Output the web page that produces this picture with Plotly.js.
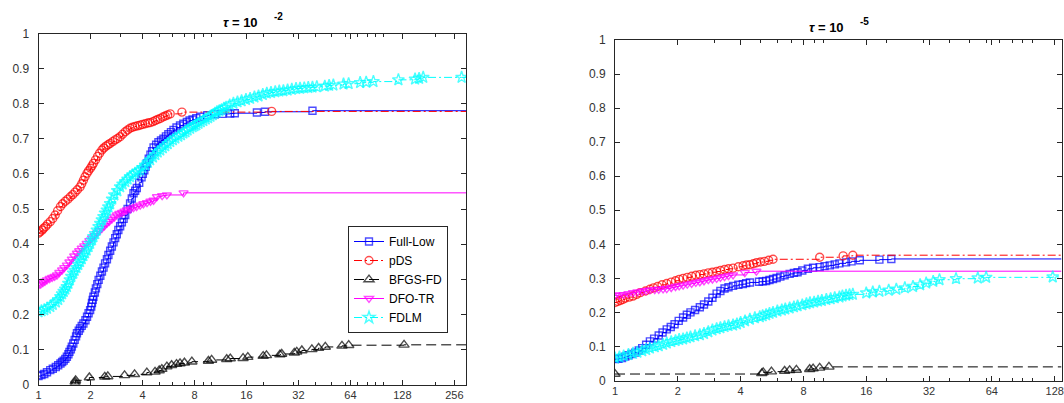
<!DOCTYPE html>
<html><head><meta charset="utf-8">
<script src="https://cdn.plot.ly/plotly-3.0.1.min.js"></script>
<style>html,body{margin:0;padding:0;background:#fff}#chart{width:1064px;height:403px}</style>
</head><body><div id="chart"></div>
<script>
// ---------- data ----------
const solvers = ['Full-Low', 'pDS', 'BFGS-FD', 'DFO-TR', 'FDLM'];
const xTickVals = [1, 2, 4, 8, 16, 32, 64, 128, 256];
const xTickText = ['1', '2', '4', '8', '16', '32', '64', '128', '256'];
const xMinorVals = [3, 5, 6, 7, 9, 10, 20, 30, 40, 50, 60, 70, 80, 90, 100, 200, 300];
const yTickVals = [0, 0.1, 0.2, 0.3, 0.4, 0.5, 0.6, 0.7, 0.8, 0.9, 1];
const yTickText = ['0', '0.1', '0.2', '0.3', '0.4', '0.5', '0.6', '0.7', '0.8', '0.9', '1'];
const titleLeft = ['τ = 10', '-2'];
const titleRight = ['τ = 10', '-5'];
const tauMaxLeft = 299;
const tauMaxRight = 138;

// left panel: tau = 1e-2
const fullLowLX = [1, 1.04, 1.08, 1.12, 1.17, 1.21, 1.26, 1.30, 1.34, 1.37, 1.40, 1.43, 1.46, 1.49, 1.51, 1.54, 1.56, 1.59, 1.62, 1.65, 1.67, 1.71, 1.74, 1.78, 1.82, 1.87, 1.91, 1.95, 1.99, 2.02, 2.04, 2.06, 2.08, 2.12, 2.15, 2.19, 2.23, 2.28, 2.33, 2.38, 2.43, 2.49, 2.54, 2.6, 2.66, 2.72, 2.78, 2.84, 2.9, 2.97, 3.04, 3.11, 3.18, 3.28, 3.39, 3.47, 3.55, 3.63, 3.71, 3.83, 3.95, 4.02, 4.1, 4.17, 4.24, 4.35, 4.45, 4.55, 4.64, 4.8, 4.95, 5.12, 5.29, 5.47, 5.65, 5.85, 6.05, 6.3, 6.6, 6.9, 7.23, 7.5, 7.8, 8.2, 8.63, 9.5, 10.5, 11.6, 12.88, 13.7, 18.4, 20.5, 38.6];
const fullLowLY = [0.024, 0.027, 0.03, 0.035, 0.041, 0.045, 0.05, 0.055, 0.06, 0.064, 0.068, 0.073, 0.079, 0.086, 0.093, 0.1, 0.108, 0.117, 0.127, 0.137, 0.146, 0.153, 0.160, 0.167, 0.174, 0.183, 0.193, 0.203, 0.212, 0.222, 0.232, 0.241, 0.25, 0.262, 0.274, 0.286, 0.298, 0.31, 0.322, 0.333, 0.345, 0.357, 0.369, 0.381, 0.393, 0.405, 0.417, 0.428, 0.44, 0.451, 0.462, 0.472, 0.483, 0.5, 0.516, 0.53, 0.545, 0.552, 0.56, 0.575, 0.59, 0.6, 0.61, 0.62, 0.63, 0.643, 0.655, 0.665, 0.675, 0.683, 0.69, 0.695, 0.70, 0.707, 0.713, 0.719, 0.725, 0.732, 0.738, 0.743, 0.748, 0.752, 0.755, 0.759, 0.763, 0.767, 0.77, 0.771, 0.772, 0.773, 0.775, 0.777, 0.780];
const pdsLX = [1, 1.02, 1.05, 1.07, 1.1, 1.13, 1.17, 1.21, 1.25, 1.29, 1.34, 1.38, 1.43, 1.48, 1.53, 1.58, 1.63, 1.68, 1.74, 1.78, 1.82, 1.86, 1.91, 1.95, 2.0, 2.04, 2.08, 2.14, 2.2, 2.26, 2.33, 2.39, 2.46, 2.53, 2.6, 2.69, 2.78, 2.87, 2.97, 3.07, 3.18, 3.28, 3.39, 3.5, 3.62, 3.75, 3.88, 4.0, 4.15, 4.3, 4.43, 4.6, 4.75, 4.9, 5.07, 5.25, 5.42, 5.6, 5.79, 6.77, 22.4];
const pdsLY = [0.431, 0.435, 0.44, 0.445, 0.45, 0.457, 0.464, 0.473, 0.483, 0.495, 0.507, 0.515, 0.522, 0.528, 0.535, 0.541, 0.548, 0.555, 0.563, 0.572, 0.582, 0.592, 0.602, 0.609, 0.616, 0.623, 0.63, 0.64, 0.65, 0.659, 0.668, 0.674, 0.679, 0.683, 0.687, 0.692, 0.697, 0.701, 0.706, 0.713, 0.72, 0.725, 0.73, 0.733, 0.735, 0.737, 0.739, 0.741, 0.743, 0.745, 0.746, 0.749, 0.752, 0.755, 0.758, 0.762, 0.765, 0.768, 0.771, 0.776, 0.778];
const bfgsLX = [1.63, 1.63, 1.64, 1.97, 2.42, 2.52, 3.15, 3.6, 4.24, 4.73, 5.0, 5.18, 5.54, 5.9, 6.3, 6.6, 7.0, 7.73, 9.64, 10.06, 12.3, 12.9, 15.3, 16.3, 20.0, 20.9, 25.0, 25.6, 30.3, 31.3, 33.5, 38.3, 41.9, 45.8, 57.2, 62.6, 130.9];
const bfgsLY = [0.002, 0.007, 0.012, 0.02, 0.022, 0.023, 0.026, 0.029, 0.034, 0.036, 0.04, 0.044, 0.051, 0.055, 0.058, 0.06, 0.062, 0.065, 0.067, 0.07, 0.072, 0.074, 0.075, 0.078, 0.081, 0.083, 0.085, 0.087, 0.09, 0.093, 0.097, 0.1, 0.104, 0.107, 0.11, 0.112, 0.113];
const dfoLX = [1, 1.03, 1.06, 1.09, 1.12, 1.16, 1.2, 1.24, 1.28, 1.32, 1.37, 1.41, 1.46, 1.51, 1.56, 1.61, 1.67, 1.72, 1.78, 1.84, 1.9, 1.97, 2.04, 2.11, 2.18, 2.25, 2.33, 2.41, 2.49, 2.57, 2.66, 2.75, 2.84, 2.94, 3.05, 3.15, 3.25, 3.4, 3.55, 3.7, 3.88, 4.05, 4.25, 4.45, 4.64, 4.85, 5.2, 5.54, 6.92];
const dfoLY = [0.283, 0.286, 0.29, 0.294, 0.298, 0.302, 0.305, 0.308, 0.312, 0.319, 0.326, 0.333, 0.34, 0.349, 0.357, 0.366, 0.374, 0.381, 0.388, 0.395, 0.402, 0.41, 0.417, 0.424, 0.431, 0.438, 0.445, 0.452, 0.459, 0.465, 0.471, 0.477, 0.483, 0.487, 0.49, 0.494, 0.497, 0.5, 0.504, 0.507, 0.511, 0.515, 0.518, 0.522, 0.525, 0.535, 0.538, 0.54, 0.546];
const fdlmLX = [1, 1.04, 1.08, 1.12, 1.17, 1.21, 1.26, 1.3, 1.34, 1.37, 1.40, 1.43, 1.46, 1.49, 1.52, 1.55, 1.59, 1.62, 1.66, 1.7, 1.74, 1.78, 1.82, 1.86, 1.9, 1.95, 1.99, 2.04, 2.08, 2.13, 2.18, 2.23, 2.28, 2.33, 2.38, 2.43, 2.49, 2.54, 2.6, 2.67, 2.75, 2.86, 2.97, 3.07, 3.18, 3.28, 3.39, 3.5, 3.62, 3.75, 3.88, 4.0, 4.15, 4.3, 4.43, 4.6, 4.75, 4.9, 5.07, 5.25, 5.42, 5.6, 5.79, 6.0, 6.2, 6.45, 6.68, 6.9, 7.1, 7.3, 7.55, 7.8, 8.0, 8.2, 8.44, 8.7, 9.0, 9.3, 9.6, 9.9, 10.2, 10.5, 10.8, 11.15, 11.5, 11.85, 12.2, 12.8, 13.45, 14.2, 15.0, 15.9, 16.8, 17.8, 18.8, 19.9, 21, 22.2, 23.5, 24.8, 26.2, 27.7, 29.3, 31, 32.7, 34.6, 36.5, 38.6, 40.9, 45.5, 48.2, 51, 58.4, 62.5, 72.9, 79, 87, 121.4, 151.6, 160, 169, 282];
const fdlmLY = [0.207, 0.21, 0.213, 0.217, 0.222, 0.228, 0.235, 0.242, 0.25, 0.258, 0.265, 0.272, 0.279, 0.288, 0.298, 0.308, 0.317, 0.325, 0.333, 0.342, 0.35, 0.358, 0.367, 0.375, 0.383, 0.393, 0.402, 0.412, 0.421, 0.43, 0.44, 0.45, 0.459, 0.469, 0.478, 0.488, 0.497, 0.506, 0.515, 0.528, 0.54, 0.552, 0.563, 0.571, 0.578, 0.585, 0.592, 0.597, 0.602, 0.607, 0.611, 0.618, 0.625, 0.633, 0.64, 0.648, 0.655, 0.662, 0.668, 0.674, 0.68, 0.686, 0.692, 0.697, 0.702, 0.707, 0.711, 0.716, 0.72, 0.725, 0.73, 0.734, 0.737, 0.74, 0.744, 0.748, 0.752, 0.756, 0.76, 0.764, 0.768, 0.773, 0.777, 0.78, 0.783, 0.787, 0.79, 0.796, 0.801, 0.805, 0.808, 0.812, 0.815, 0.819, 0.822, 0.826, 0.830, 0.832, 0.834, 0.836, 0.837, 0.839, 0.841, 0.843, 0.844, 0.845, 0.846, 0.847, 0.848, 0.85, 0.852, 0.853, 0.856, 0.857, 0.860, 0.861, 0.863, 0.868, 0.870, 0.872, 0.875, 0.875];

// right panel: tau = 1e-5
const fullLowRX = [1, 1.04, 1.08, 1.12, 1.16, 1.2, 1.25, 1.3, 1.35, 1.41, 1.47, 1.54, 1.62, 1.69, 1.77, 1.85, 1.93, 2.02, 2.12, 2.21, 2.3, 2.42, 2.55, 2.67, 2.8, 2.93, 3.07, 3.2, 3.35, 3.5, 3.68, 3.9, 4.1, 4.25, 4.43, 4.9, 5.1, 5.3, 5.5, 5.72, 5.95, 6.2, 6.5, 6.87, 7.2, 7.5, 7.9, 8.4, 8.9, 9.57, 10.1, 10.7, 11.3, 11.9, 12.8, 13.6, 14.9, 18.5, 21.1];
const fullLowRY = [0.063, 0.064, 0.066, 0.07, 0.074, 0.078, 0.082, 0.088, 0.095, 0.105, 0.115, 0.123, 0.132, 0.141, 0.150, 0.157, 0.165, 0.175, 0.185, 0.193, 0.2, 0.207, 0.215, 0.223, 0.232, 0.243, 0.255, 0.263, 0.27, 0.274, 0.278, 0.281, 0.283, 0.286, 0.288, 0.290, 0.291, 0.292, 0.295, 0.298, 0.301, 0.305, 0.309, 0.313, 0.316, 0.318, 0.323, 0.328, 0.331, 0.333, 0.336, 0.338, 0.341, 0.344, 0.347, 0.350, 0.353, 0.355, 0.357];
const pdsRX = [1, 1.03, 1.06, 1.09, 1.12, 1.17, 1.22, 1.27, 1.32, 1.4, 1.47, 1.53, 1.6, 1.68, 1.77, 1.86, 1.95, 2.03, 2.12, 2.22, 2.33, 2.44, 2.55, 2.67, 2.8, 2.93, 3.07, 3.2, 3.35, 3.5, 3.68, 3.9, 4.11, 4.27, 4.43, 4.6, 4.77, 4.98, 5.2, 5.45, 5.72, 9.57, 12.4, 13.8];
const pdsRY = [0.229, 0.232, 0.235, 0.238, 0.242, 0.245, 0.248, 0.253, 0.258, 0.263, 0.268, 0.272, 0.276, 0.281, 0.285, 0.289, 0.293, 0.297, 0.300, 0.303, 0.306, 0.309, 0.311, 0.313, 0.316, 0.318, 0.320, 0.323, 0.326, 0.328, 0.330, 0.334, 0.337, 0.339, 0.340, 0.343, 0.346, 0.348, 0.350, 0.353, 0.356, 0.362, 0.366, 0.368];
const bfgsRX = [1, 5.05, 5.13, 5.62, 6.5, 6.87, 7.4, 8.57, 8.9, 9.57, 10.6];
const bfgsRY = [0.019, 0.021, 0.024, 0.026, 0.028, 0.030, 0.031, 0.033, 0.035, 0.037, 0.040];
const dfoRX = [1, 1.05, 1.1, 1.16, 1.22, 1.28, 1.35, 1.41, 1.47, 1.55, 1.62, 1.7, 1.77, 1.86, 1.95, 2.03, 2.12, 2.22, 2.33, 2.44, 2.55, 2.67, 2.8, 2.93, 3.07, 3.2, 3.35, 3.5, 3.68, 4.19, 4.76];
const dfoRY = [0.25, 0.251, 0.252, 0.255, 0.258, 0.26, 0.262, 0.264, 0.266, 0.267, 0.268, 0.269, 0.27, 0.273, 0.276, 0.278, 0.28, 0.283, 0.285, 0.288, 0.29, 0.293, 0.296, 0.298, 0.30, 0.303, 0.305, 0.308, 0.31, 0.317, 0.321];
const fdlmRX = [1, 1.05, 1.1, 1.16, 1.22, 1.28, 1.35, 1.41, 1.47, 1.55, 1.62, 1.7, 1.77, 1.86, 1.95, 2.03, 2.12, 2.21, 2.3, 2.42, 2.55, 2.67, 2.8, 2.93, 3.07, 3.2, 3.35, 3.5, 3.68, 3.84, 4.0, 4.2, 4.43, 4.68, 4.94, 5.1, 5.3, 5.5, 5.72, 6.0, 6.3, 6.55, 6.87, 7.2, 7.5, 7.9, 8.27, 8.6, 9.0, 9.4, 9.8, 10.3, 10.8, 11.3, 11.9, 12.3, 12.8, 13.3, 13.8, 16.0, 17.2, 18.5, 20.5, 22.3, 24.5, 26.8, 29, 31, 33.5, 35.9, 43.1, 54.8, 60.1, 125.3];
const fdlmRY = [0.066, 0.069, 0.072, 0.076, 0.08, 0.083, 0.087, 0.091, 0.095, 0.099, 0.102, 0.106, 0.11, 0.114, 0.117, 0.12, 0.122, 0.125, 0.128, 0.131, 0.134, 0.138, 0.143, 0.148, 0.152, 0.155, 0.158, 0.161, 0.163, 0.166, 0.170, 0.175, 0.18, 0.184, 0.187, 0.19, 0.193, 0.197, 0.2, 0.204, 0.207, 0.21, 0.213, 0.216, 0.219, 0.222, 0.225, 0.228, 0.23, 0.233, 0.235, 0.238, 0.24, 0.243, 0.245, 0.248, 0.25, 0.252, 0.253, 0.257, 0.26, 0.262, 0.265, 0.268, 0.272, 0.276, 0.281, 0.286, 0.291, 0.296, 0.299, 0.301, 0.303, 0.304];

// ---------- styles ----------
const styles = [
  {color: '#0000FF', dash: 'solid', symbol: 'square-open', size: 7},
  {color: '#FF0000', dash: '8px,3px,2px,3px', symbol: 'circle-open', size: 8},
  {color: '#000000', dash: '10px,5px', symbol: 'triangle-up-open', size: 9},
  {color: '#FF00FF', dash: 'solid', symbol: 'triangle-down-open', size: 8},
  {color: '#00FFFF', dash: '8px,3px,2px,3px', symbol: 'star-open', size: 9}
];

function mk(x, y, i, xa, ya, tauMax, legend) {
  const s = styles[i];
  const xs = x.concat([tauMax]);
  const ys = y.concat([y[y.length - 1]]);
  const sizes = xs.map((_, k) => k === xs.length - 1 ? 0 : s.size);
  return {
    type: 'scatter', mode: 'lines+markers', name: solvers[i],
    x: xs, y: ys, xaxis: xa, yaxis: ya, showlegend: legend,
    line: {color: s.color, width: 1, dash: s.dash, shape: 'hv'},
    marker: {symbol: s.symbol, size: sizes, color: s.color, line: {color: s.color, width: 1.4}},
    hoverinfo: 'skip'
  };
}

const leftSets = [[fullLowLX, fullLowLY], [pdsLX, pdsLY], [bfgsLX, bfgsLY], [dfoLX, dfoLY], [fdlmLX, fdlmLY]];
const rightSets = [[fullLowRX, fullLowRY], [pdsRX, pdsRY], [bfgsRX, bfgsRY], [dfoRX, dfoRY], [fdlmRX, fdlmRY]];
const traces = [];
leftSets.forEach((d, i) => traces.push(mk(d[0], d[1], i, 'x', 'y', tauMaxLeft, true)));
rightSets.forEach((d, i) => traces.push(mk(d[0], d[1], i, 'x2', 'y2', tauMaxRight, false)));

const W = 1064, H = 403;
const axisCol = '#262626';
const fam = 'Liberation Sans, Arial, sans-serif';
function xAxis(dom, tauMax, anchor) {
  return {
    type: 'log', domain: dom, range: [0, Math.log10(tauMax)], anchor: anchor,
    tickmode: 'array', tickvals: xTickVals, ticktext: xTickText,
    ticks: 'inside', ticklen: 5, tickwidth: 1, tickcolor: axisCol,
    minor: {tickmode: 'array', tickvals: xMinorVals, ticks: 'inside', ticklen: 3, tickcolor: axisCol, showgrid: false},
    showline: true, linecolor: axisCol, linewidth: 1, mirror: 'allticks',
    showgrid: false, zeroline: false,
    tickfont: {family: fam, size: 11, color: '#333333'}, ticklabelstandoff: 0,
    ticklabeloverflow: 'allow'
  };
}
function yAxis(dom, anchor) {
  return {
    domain: dom, range: [0, 1], anchor: anchor,
    tickmode: 'array', tickvals: yTickVals, ticktext: yTickText,
    ticks: 'inside', ticklen: 5, tickwidth: 1, tickcolor: axisCol,
    showline: true, linecolor: axisCol, linewidth: 1, mirror: 'allticks',
    showgrid: false, zeroline: false,
    tickfont: {family: fam, size: 12, color: '#333333'}, ticklabelstandoff: 6
  };
}
const titleFont = {family: fam, size: 13, color: '#000'};
const supFont = {family: fam, size: 10, color: '#000'};
function ann(text, px, py, font) {
  return {text: text, xref: 'paper', yref: 'paper', x: px / W, y: 1 - py / H,
          xanchor: 'left', yanchor: 'middle', showarrow: false, font: font};
}

const layout = {
  width: W, height: H,
  margin: {l: 0, r: 0, t: 0, b: 0},
  paper_bgcolor: '#fff', plot_bgcolor: '#fff',
  xaxis: xAxis([38.5 / W, 466 / W], tauMaxLeft, 'y'),
  yaxis: yAxis([1 - 384.5 / H, 1 - 33.5 / H], 'x'),
  xaxis2: xAxis([615 / W, 1061.5 / W], tauMaxRight, 'y2'),
  yaxis2: yAxis([1 - 380.5 / H, 1 - 40 / H], 'x2'),
  showlegend: true,
  legend: {x: 348 / W, y: 1 - 226 / H, xanchor: 'left', yanchor: 'top',
           bgcolor: '#fff', bordercolor: axisCol, borderwidth: 1,
           font: {family: fam, size: 12, color: '#000'},
           tracegroupgap: 0},
  annotations: [
    ann('<b><i>' + titleLeft[0].charAt(0) + '</i>' + titleLeft[0].slice(1) + '</b>', 221, 23, titleFont),
    ann('<b>' + titleLeft[1] + '</b>', 272, 16, supFont),
    ann('<b><i>' + titleRight[0].charAt(0) + '</i>' + titleRight[0].slice(1) + '</b>', 807, 28, titleFont),
    ann('<b>' + titleRight[1] + '</b>', 858, 22, supFont)
  ]
};

Plotly.newPlot('chart', traces, layout, {staticPlot: true, displayModeBar: false});
</script>
</body></html>
